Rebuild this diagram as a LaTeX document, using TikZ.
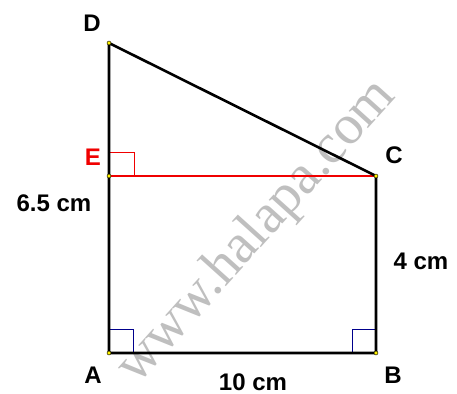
\documentclass[tikz,border=0pt]{standalone}
\usepackage{fontspec}
\setmainfont{Liberation Sans}
\newfontfamily\wmfont{Liberation Serif}
\begin{document}
\begin{tikzpicture}[x=1pt,y=-1pt,
  edge/.style={line width=2.6pt},
  redge/.style={line width=2.6pt, draw={rgb,255:red,240;green,0;blue,0}},
  lbl/.style={font=\fontsize{24}{26}\selectfont\bfseries, inner sep=0pt},
  vdot/.style={circle, fill=yellow, draw=black, line width=0.4pt, minimum size=4pt, inner sep=0pt},
  rmark/.style={line width=0.8pt}]
\useasboundingbox (0,0) rectangle (457,393);
\fill[white] (0,0) rectangle (457,393);
% watermark
\node[font=\wmfont\fontsize{56}{60}\selectfont, text=black!25, rotate=48, inner sep=0pt] (wm) at (257,232) {www.halapa.com};
% vertices
\coordinate (A) at (109,353);
\coordinate (B) at (376,353);
\coordinate (C) at (376,176);
\coordinate (D) at (109,43);
\coordinate (E) at (109,176);
% right angle marks
\draw[rmark, draw={rgb,255:red,240;green,0;blue,0}] (109,152) -- (134,152) -- (134,176);
\draw[rmark, draw={rgb,255:red,0;green,0;blue,140}] (109,329) -- (133,329) -- (133,353);
\draw[rmark, draw={rgb,255:red,0;green,0;blue,140}] (352,353) -- (352,329) -- (376,329);
% edges
\draw[redge] (E) -- (C);
\draw[edge, line join=round] (D) -- (A) -- (B) -- (C) -- (D);
% dots
\foreach \p in {A,B,C,D,E} \node[vdot] (dot\p) at (\p) {};
% labels
\node[lbl] (lD) at (92,23) {D};
\node[lbl, text={rgb,255:red,240;green,0;blue,0}] (lE) at (93,157) {E};
\node[lbl] (lC) at (394,155) {C};
\node[lbl] (lA) at (93,375) {A};
\node[lbl] (lB) at (393,375) {B};
\node[lbl] (l65) at (54,203) {6.5 cm};
\node[lbl] (l4) at (421,261) {4 cm};
\node[lbl] (l10) at (253,382) {10 cm};
\end{tikzpicture}
\end{document}
